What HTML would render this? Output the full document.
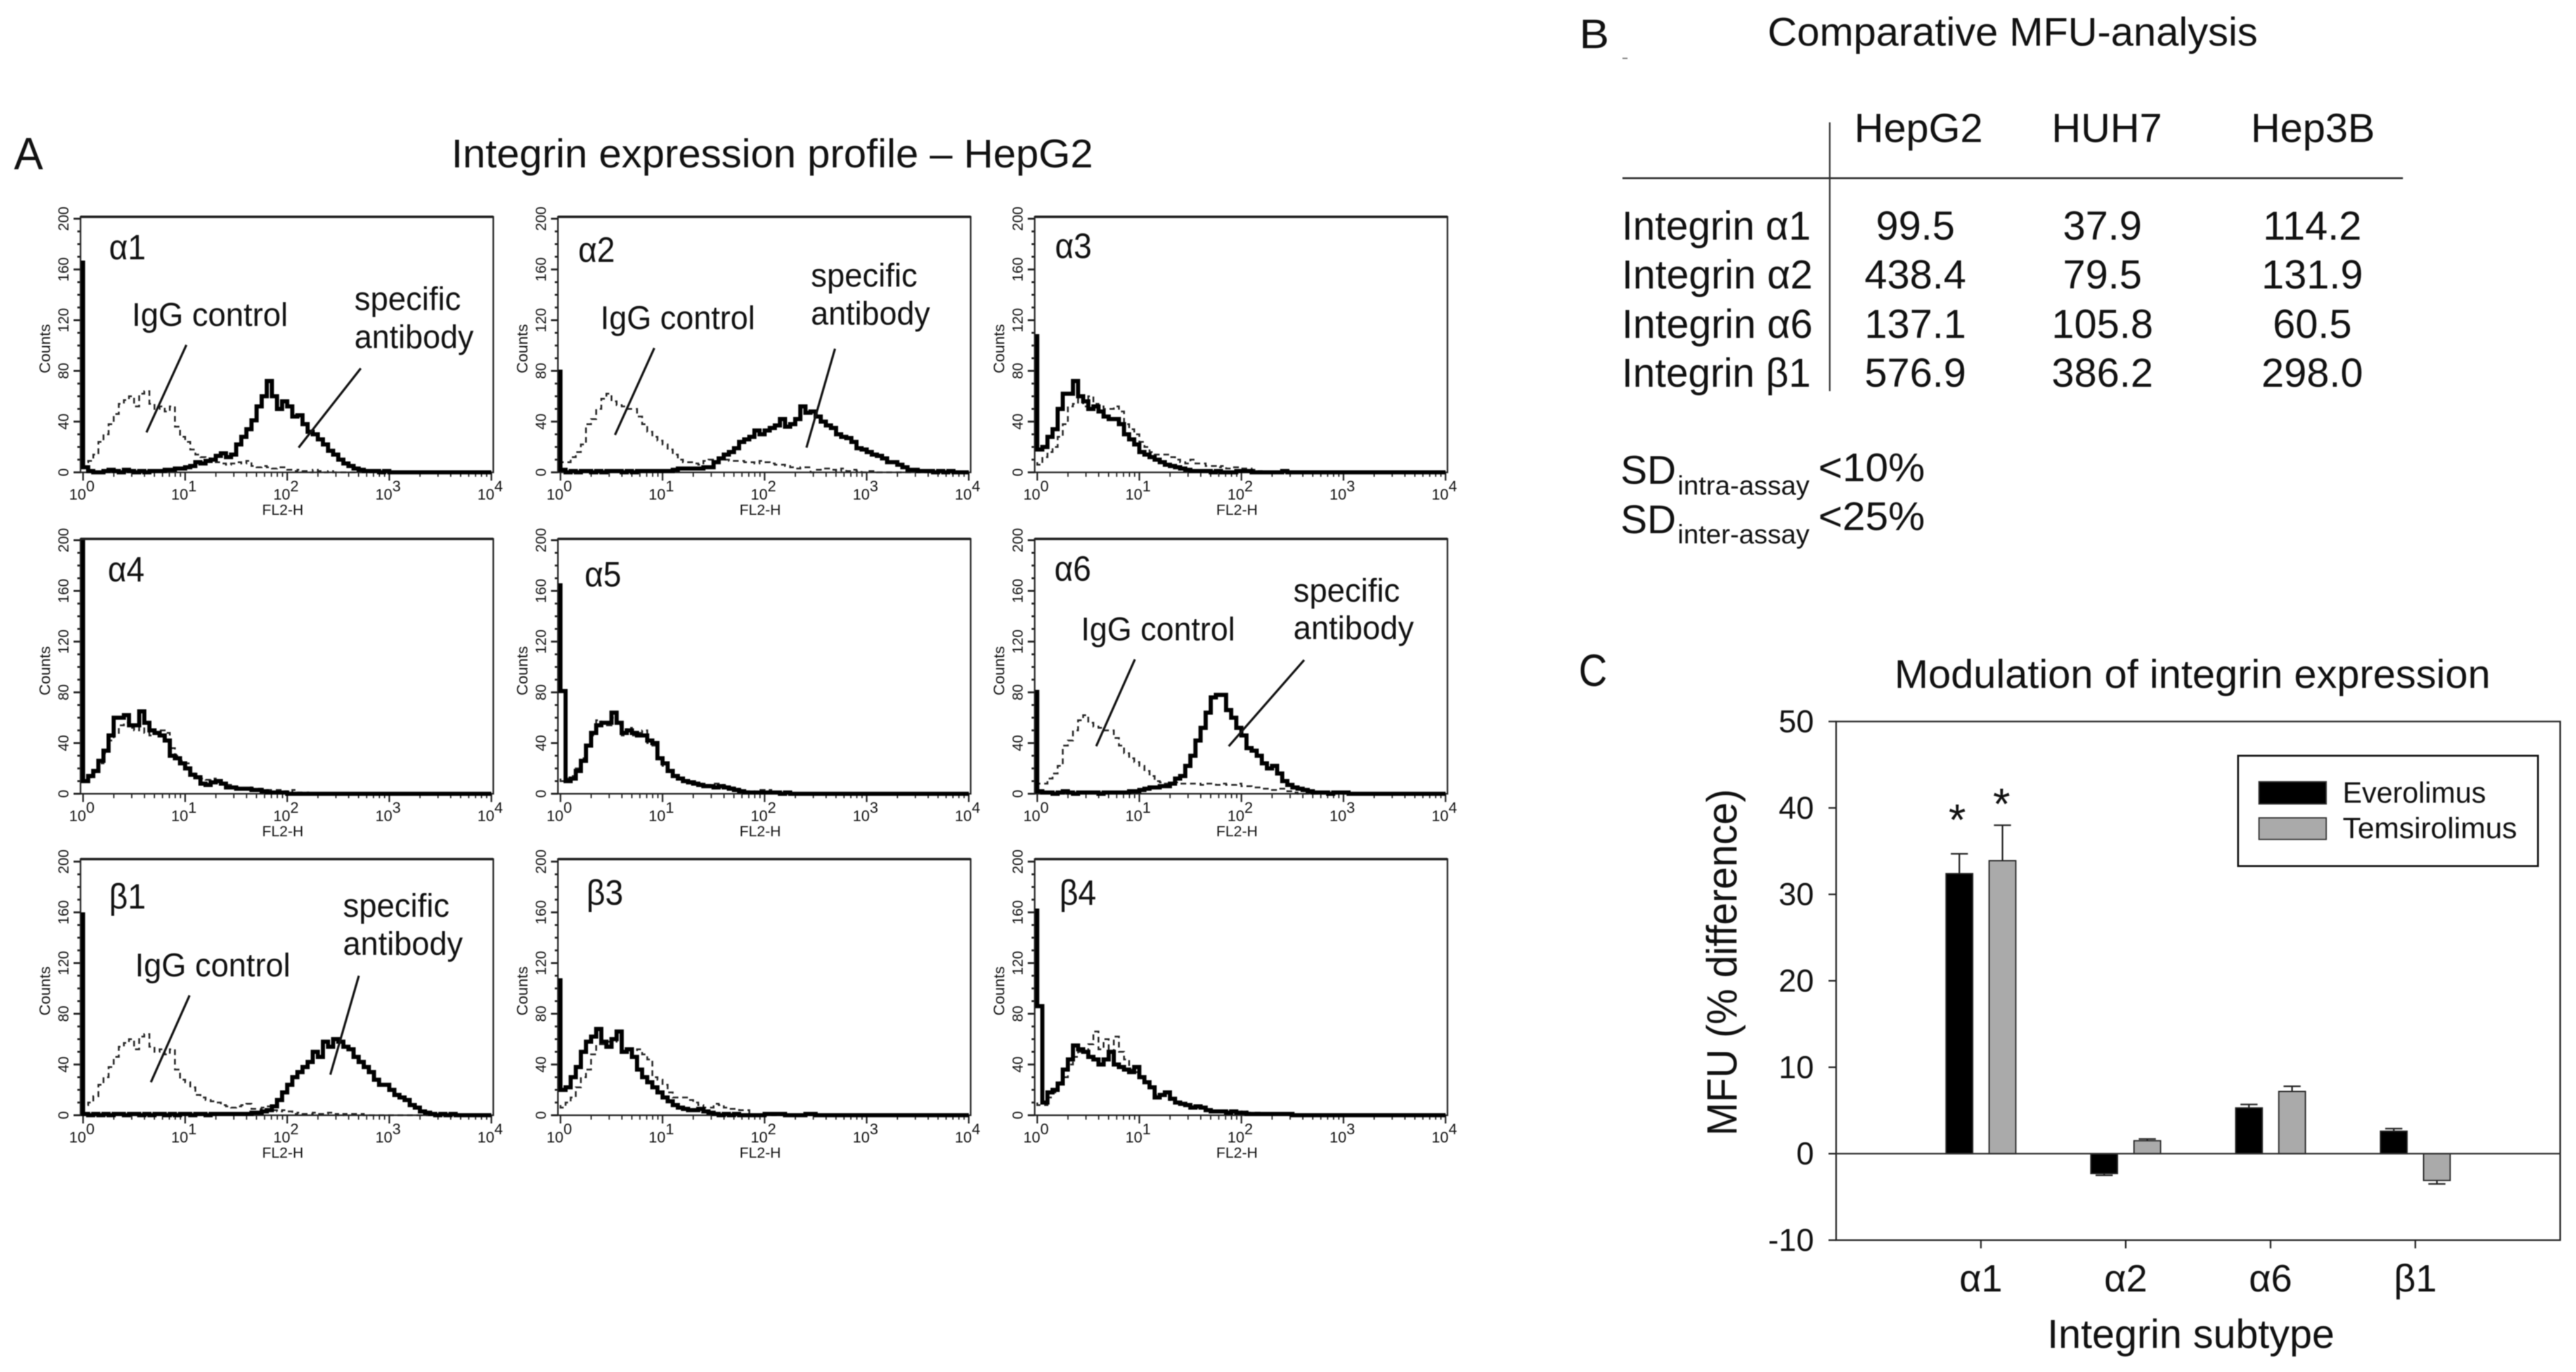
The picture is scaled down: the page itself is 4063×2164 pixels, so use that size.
<!DOCTYPE html>
<html lang="en">
<head>
<meta charset="utf-8">
<title>Integrin expression figure</title>
<style>
html,body{margin:0;padding:0;background:#fff;width:4063px;height:2164px;overflow:hidden}
svg{display:block;filter:blur(0.9px)}
text{font-family:"Liberation Sans","DejaVu Sans",sans-serif;fill:#111}
</style>
</head>
<body>
<svg id="figure" xmlns="http://www.w3.org/2000/svg" width="4063" height="2164" viewBox="0 0 4063 2164">
  <rect width="4063" height="2164" fill="#fff"/>

  <!-- Panel A headings -->
  <text x="22" y="267" font-size="71" textLength="46" lengthAdjust="spacingAndGlyphs">A</text>
  <text x="712" y="264" font-size="63" textLength="1012" lengthAdjust="spacingAndGlyphs">Integrin expression profile – HepG2</text>

  <g id="histograms"></g>

  <!-- Histogram annotations -->
  <g stroke="none">
    <text x="208" y="514" font-size="52" textLength="246" lengthAdjust="spacingAndGlyphs">IgG control</text>
    <text x="559" y="489" font-size="52" textLength="168" lengthAdjust="spacingAndGlyphs">specific</text>
    <text x="559" y="549" font-size="52" textLength="188" lengthAdjust="spacingAndGlyphs">antibody</text>
    <line x1="294" y1="544" x2="231" y2="682" stroke="#111" stroke-width="3.5"/>
    <line x1="569" y1="581" x2="471" y2="706" stroke="#111" stroke-width="3.5"/>

    <text x="947" y="519" font-size="52" textLength="244" lengthAdjust="spacingAndGlyphs">IgG control</text>
    <text x="1279" y="452" font-size="52" textLength="168" lengthAdjust="spacingAndGlyphs">specific</text>
    <text x="1279" y="512" font-size="52" textLength="188" lengthAdjust="spacingAndGlyphs">antibody</text>
    <line x1="1032" y1="549" x2="970" y2="686" stroke="#111" stroke-width="3.5"/>
    <line x1="1317" y1="550" x2="1272" y2="706" stroke="#111" stroke-width="3.5"/>

    <text x="1705" y="1010" font-size="52" textLength="243" lengthAdjust="spacingAndGlyphs">IgG control</text>
    <text x="2040" y="949" font-size="52" textLength="168" lengthAdjust="spacingAndGlyphs">specific</text>
    <text x="2040" y="1008" font-size="52" textLength="190" lengthAdjust="spacingAndGlyphs">antibody</text>
    <line x1="1790" y1="1040" x2="1729" y2="1177" stroke="#111" stroke-width="3.5"/>
    <line x1="2057" y1="1041" x2="1938" y2="1177" stroke="#111" stroke-width="3.5"/>

    <text x="213" y="1540" font-size="52" textLength="245" lengthAdjust="spacingAndGlyphs">IgG control</text>
    <text x="541" y="1446" font-size="52" textLength="168" lengthAdjust="spacingAndGlyphs">specific</text>
    <text x="541" y="1506" font-size="52" textLength="189" lengthAdjust="spacingAndGlyphs">antibody</text>
    <line x1="299" y1="1570" x2="238" y2="1707" stroke="#111" stroke-width="3.5"/>
    <line x1="566" y1="1539" x2="521" y2="1695" stroke="#111" stroke-width="3.5"/>
  </g>

  <!-- Panel B table -->
  <g>
    <text x="2491" y="76" font-size="65" textLength="47" lengthAdjust="spacingAndGlyphs">B</text>
    <rect x="2559" y="91" width="8" height="2" fill="#777"/>
    <text x="2788" y="72" font-size="63" textLength="773" lengthAdjust="spacingAndGlyphs">Comparative MFU-analysis</text>
    <line x1="2559" y1="281" x2="3790" y2="281" stroke="#333" stroke-width="3"/>
    <line x1="2886" y1="193" x2="2886" y2="617" stroke="#333" stroke-width="2.5"/>
    <text x="3026" y="224" font-size="64" text-anchor="middle">HepG2</text>
    <text x="3323" y="224" font-size="64" text-anchor="middle">HUH7</text>
    <text x="3648" y="224" font-size="64" text-anchor="middle">Hep3B</text>

    <text x="2558" y="378" font-size="64" textLength="298" lengthAdjust="spacingAndGlyphs">Integrin α1</text>
    <text x="2558" y="455" font-size="64" textLength="301" lengthAdjust="spacingAndGlyphs">Integrin α2</text>
    <text x="2558" y="533" font-size="64" textLength="301" lengthAdjust="spacingAndGlyphs">Integrin α6</text>
    <text x="2558" y="610" font-size="64" textLength="298" lengthAdjust="spacingAndGlyphs">Integrin β1</text>

    <text x="3021" y="378" font-size="64" text-anchor="middle">99.5</text>
    <text x="3316" y="378" font-size="64" text-anchor="middle">37.9</text>
    <text x="3647" y="378" font-size="64" text-anchor="middle">114.2</text>
    <text x="3021" y="455" font-size="64" text-anchor="middle">438.4</text>
    <text x="3316" y="455" font-size="64" text-anchor="middle">79.5</text>
    <text x="3647" y="455" font-size="64" text-anchor="middle">131.9</text>
    <text x="3021" y="533" font-size="64" text-anchor="middle">137.1</text>
    <text x="3316" y="533" font-size="64" text-anchor="middle">105.8</text>
    <text x="3647" y="533" font-size="64" text-anchor="middle">60.5</text>
    <text x="3021" y="610" font-size="64" text-anchor="middle">576.9</text>
    <text x="3316" y="610" font-size="64" text-anchor="middle">386.2</text>
    <text x="3647" y="610" font-size="64" text-anchor="middle">298.0</text>

    <text x="2556" y="763" font-size="63">SD</text>
    <text x="2646" y="780" font-size="42" textLength="208" lengthAdjust="spacingAndGlyphs">intra-assay</text>
    <text x="2868" y="759" font-size="63" textLength="168" lengthAdjust="spacingAndGlyphs">&lt;10%</text>
    <text x="2556" y="841" font-size="63">SD</text>
    <text x="2646" y="857" font-size="42" textLength="208" lengthAdjust="spacingAndGlyphs">inter-assay</text>
    <text x="2868" y="836" font-size="63" textLength="168" lengthAdjust="spacingAndGlyphs">&lt;25%</text>
  </g>

  <!-- Panel C headings -->
  <text x="2490" y="1082" font-size="71" textLength="45" lengthAdjust="spacingAndGlyphs">C</text>
  <text x="2988" y="1085" font-size="63" textLength="940" lengthAdjust="spacingAndGlyphs">Modulation of integrin expression</text>
  <g id="barchart"></g>
  <text transform="translate(2739,1518) rotate(-90)" font-size="67" text-anchor="middle" textLength="547" lengthAdjust="spacingAndGlyphs">MFU (% difference)</text>
  <text x="3229" y="2126" font-size="64" textLength="453" lengthAdjust="spacingAndGlyphs">Integrin subtype</text>
  <text x="3087" y="1317" font-size="70" text-anchor="middle">*</text>
  <text x="3157" y="1292" font-size="70" text-anchor="middle">*</text>

  <g>
    <rect x="3530" y="1192" width="473" height="174" fill="#fff" stroke="#111" stroke-width="3"/>
    <rect x="3563" y="1233" width="106" height="35" fill="#000" stroke="#333" stroke-width="2"/>
    <rect x="3563" y="1290" width="106" height="34" fill="#aaa" stroke="#333" stroke-width="2"/>
    <text x="3695" y="1266" font-size="46" textLength="226" lengthAdjust="spacingAndGlyphs">Everolimus</text>
    <text x="3695" y="1322" font-size="46" textLength="275" lengthAdjust="spacingAndGlyphs">Temsirolimus</text>
  </g>
</svg>

<script>
// ---- Histogram data: counts per bin, 20 bins per decade of FL2-H; bins past the end of an array are 0 ----
const panelLabels = ['α1','α2','α3','α4','α5','α6','β1','β3','β4'];
const countTickLabels = [0,40,80,120,160,200];
const countMinorTicks = [10,20,30,50,60,70,90,100,110,130,140,150,170,180,190];
const decadeExponents = [0,1,2,3,4];
const decadeMinorMultipliers = [2,3,4,5,6,7,8,9];

const a1Specific = [167,4,1,0,0,1,2,1,0,2,1,0,1,0,1,1,1,2,2,3,3,4,5,8,7,9,10,13,15,12,14,22,28,34,41,52,60,72,60,50,56,52,44,45,38,32,30,26,22,17,14,10,7,5,3,2,1,1,1,0,1];
const a1Control = [12,8,9,14,24,30,38,46,54,57,60,52,62,64,54,50,52,48,52,36,28,24,18,14,12,11,9,8,7,6,7,8,7,9,5,4,5,4,3,4,4,2,1,2,1,0,2,1,0,1];
const a2Specific = [81,2,0,1,0,1,1,0,1,0,1,1,1,0,1,0,1,1,1,1,1,1,1,2,3,3,3,3,3,4,4,8,11,14,16,19,24,26,28,33,30,33,35,37,42,36,38,42,52,47,48,44,40,37,35,30,28,27,24,19,18,16,14,13,11,8,8,6,4,2,2,1,1,1,0,1,0,1];
const a2Control = [10,8,8,12,16,22,38,42,50,58,62,56,53,52,50,50,44,38,32,28,25,22,18,14,10,8,8,7,6,9,10,10,11,10,9,9,9,8,8,7,9,8,7,6,6,5,4,3,4,4,0,2,3,3,2,1,3,1,2,1,0,1,1];
const a3Specific = [109,18,20,28,34,50,62,62,72,60,56,50,52,48,44,42,42,38,30,26,22,16,14,12,10,8,6,5,4,3,2,1,1,1,1,0,1,0,0,0,1,1,1,0,0,0,0,0,0,1];
const a3Control = [8,6,12,16,20,28,38,52,54,58,52,60,54,52,50,50,52,48,38,34,30,24,20,16,14,14,14,12,10,8,7,10,7,7,5,5,4,5,3,4,4,3,3,2,1];
const a4Specific = [200,10,14,18,26,34,46,60,60,62,54,54,65,56,50,48,46,42,30,28,24,20,15,13,8,7,9,10,8,5,5,4,4,4,3,3,2,1,1,1,1];
const a4Control = [12,10,13,17,24,32,42,48,54,56,52,50,60,48,46,50,50,48,36,30,26,24,16,14,12,11,12,10,8,7,5,5,4,5,4,4,3,3,3,3,2,1,3,1,0,1];
const a5Specific = [166,81,10,12,18,26,38,48,54,56,56,64,56,48,50,48,46,46,42,40,28,24,18,14,12,10,9,8,7,6,6,5,6,5,4,3,2,1,1,1,1,1,1,1,0,1];
const a5Control = [12,10,12,14,20,28,38,46,58,54,54,60,54,46,52,46,48,50,40,38,28,22,18,14,12,10,10,10,8,7,7,8,7,6,5,4,3,2,2,1,3,2,3,1];
const a6Specific = [82,2,1,1,0,1,2,1,0,1,1,1,1,0,1,1,1,1,1,2,2,3,4,5,5,6,6,8,12,14,22,30,42,52,64,76,78,78,66,60,52,46,36,34,30,24,20,22,16,10,7,5,4,3,2,1,1,1,0,1,1,1];
const a6Control = [10,8,8,12,16,22,38,42,50,58,62,56,53,52,50,50,44,38,32,28,25,22,18,14,10,9,8,8,9,8,8,8,8,7,8,8,7,8,7,7,8,6,6,5,5,4,4,3,4,4,2,1];
const b1Specific = [160,1,0,1,0,1,0,1,1,0,1,1,0,1,0,1,1,0,1,0,1,1,0,1,1,0,1,1,1,1,1,1,1,1,2,2,3,4,7,12,18,24,30,34,38,42,50,46,58,54,60,58,54,52,46,42,38,34,28,24,24,20,16,14,12,8,6,3,2,1,0,1,0,1];
const b1Control = [12,8,10,15,24,30,38,46,54,57,60,52,62,64,54,50,52,48,52,36,28,26,22,16,14,12,11,10,8,7,6,7,8,9,5,5,6,7,4,3,4,3,1,2,1,1,2,1,1,2,1,0,1,1,1,1];
const b3Specific = [108,20,22,30,38,50,58,62,68,58,54,60,66,50,52,46,36,30,26,22,18,14,11,8,6,5,4,4,5,3,2,1,0,1,0,1,0,0,0,0,0,1,1,1,1,0,0,0,0,1,1];
const b3Control = [8,6,10,14,22,30,36,48,56,56,58,58,62,50,52,50,52,48,44,30,28,24,18,14,14,14,12,10,8,6,6,9,8,6,5,5,4,4];
const b4Specific = [163,86,10,18,20,25,36,44,55,52,50,46,44,40,44,50,40,38,36,34,38,30,26,22,14,16,18,13,10,9,8,6,7,6,4,3,3,3,2,3,2,2,1,1,1,1,1,1,1,1,1];
const b4Control = [10,8,8,14,18,26,30,40,46,50,50,56,66,52,60,50,62,50,44,36,34,30,26,22,16,16,16,12,10,9,8,7,6,5,4,3,3,3,3,2,2,3,2,2,2,1,1,1,1,1,1];

const panelSpecific = [a1Specific,a2Specific,a3Specific,a4Specific,a5Specific,a6Specific,b1Specific,b3Specific,b4Specific];
const panelControl = [a1Control,a2Control,a3Control,a4Control,a5Control,a6Control,b1Control,b3Control,b4Control];
const panelIds = ['alpha1','alpha2','alpha3','alpha4','alpha5','alpha6','beta1','beta3','beta4'];

// ---- Bar chart data ----
const barCategories = ['α1','α2','α6','β1'];
const everolimusValues = [32.4,-2.3,5.3,2.6];
const temsirolimusValues = [33.9,1.5,7.2,-3.1];
const everolimusErrors = [2.3,0.2,0.4,0.3];
const temsirolimusErrors = [4.1,0.2,0.6,0.4];
const barTickLabels = [50,40,30,20,10,0,-10];

// ---- Helpers ----
const SVG_NS = 'http://www.w3.org/2000/svg';
function makeNode(tag, parent, name) {
  const node = document.createElementNS(SVG_NS, tag);
  
  
  parent.appendChild(node);
  return node;
}
function drawLine(parent, name, x1, y1, x2, y2, color, width) {
  const node = makeNode('line', parent, name);
  node.setAttribute('x1', x1);
  node.setAttribute('y1', y1);
  node.setAttribute('x2', x2);
  node.setAttribute('y2', y2);
  node.setAttribute('stroke', color);
  node.setAttribute('stroke-width', width);
  return node;
}

// ---- Histogram layout ----
const PANEL_WIDTH = 651;
const DECADE_PX = 161;
const BINS_PER_DECADE = 20;
const TOTAL_BINS = 80;
const COUNT_PX = 2;
const columnLefts = [127,880,1632];
const rowTops = [342,850,1355];
const rowBottoms = [745,1252,1759];
const labelOffsets = [[45,67],[32,71],[32,65],[43,67],[42,75],[31,66],[45,78],[45,72],[39,72]];

function stepPath(values, xOf, yOf) {
  let d = 'M' + xOf(0) + ' ' + yOf(values[0]);
  for (let i = 1; i <= TOTAL_BINS; i++) {
    const v = i < values.length ? values[i] : 0;
    d += 'V' + yOf(v) + 'H' + xOf(i);
  }
  return d;
}

function drawPanel(index) {
  const col = index % 3;
  const row = Math.floor(index / 3);
  const left = columnLefts[col];
  const top = rowTops[row];
  const bottom = rowBottoms[row];
  const id = panelIds[index];
  const xOfLog = function (logValue) { return left + 4 + logValue * DECADE_PX; };
  const xOfBin = function (bin) { return xOfLog(bin / BINS_PER_DECADE); };
  const yOfCount = function (count) { return bottom - count * COUNT_PX; };

  const g = makeNode('g', document.getElementById('histograms'), 'histogram-' + id);

  const frame = makeNode('rect', g, id + '-plot-frame');
  frame.setAttribute('x', left);
  frame.setAttribute('y', top);
  frame.setAttribute('width', PANEL_WIDTH);
  frame.setAttribute('height', bottom - top);
  frame.setAttribute('fill', '#fff');
  frame.setAttribute('stroke', '#222');
  frame.setAttribute('stroke-width', 2.5);
  drawLine(g, id + '-plot-top-edge', left, top, left + PANEL_WIDTH, top, '#222', 4);

  countMinorTicks.forEach(function (c) {
    drawLine(g, id + '-y-minor-tick', left - 5, yOfCount(c), left, yOfCount(c), '#222', 3);
  });
  countTickLabels.forEach(function (c) {
    drawLine(g, id + '-y-major-tick', left - 11, yOfCount(c), left, yOfCount(c), '#222', 3);
    const label = makeNode('text', g, id + '-y-tick-label');
    label.setAttribute('transform', 'translate(' + (left - 19) + ',' + yOfCount(c) + ') rotate(-90)');
    label.setAttribute('font-size', 23);
    label.setAttribute('text-anchor', 'middle');
    label.setAttribute('fill', '#222');
    label.textContent = String(c);
  });

  decadeExponents.forEach(function (e) {
    const x = xOfLog(e);
    drawLine(g, id + '-x-major-tick', x, bottom, x, bottom + 13, '#222', 2.5);
    if (e < 4) {
      decadeMinorMultipliers.forEach(function (m) {
        const mx = xOfLog(e + Math.log10(m));
        drawLine(g, id + '-x-minor-tick', mx, bottom, mx, bottom + 7, '#222', 2);
      });
    }
    const label = makeNode('text', g, id + '-x-tick-label');
    label.setAttribute('x', x - 22);
    label.setAttribute('y', bottom + 43);
    label.setAttribute('font-size', 24);
    label.setAttribute('fill', '#222');
    label.textContent = '10';
    const sup = makeNode('tspan', label, id + '-x-tick-exponent');
    sup.setAttribute('dy', -13);
    sup.textContent = String(e);
  });

  const yTitle = makeNode('text', g, id + '-y-axis-title');
  yTitle.setAttribute('transform', 'translate(' + (left - 48) + ',' + (top + 208) + ') rotate(-90)');
  yTitle.setAttribute('font-size', 24.5);
  yTitle.setAttribute('text-anchor', 'middle');
  yTitle.setAttribute('fill', '#222');
  yTitle.textContent = 'Counts';

  const xTitle = makeNode('text', g, id + '-x-axis-title');
  xTitle.setAttribute('x', left + 319);
  xTitle.setAttribute('y', bottom + 67);
  xTitle.setAttribute('font-size', 23.5);
  xTitle.setAttribute('text-anchor', 'middle');
  xTitle.setAttribute('fill', '#222');
  xTitle.textContent = 'FL2-H';

  const control = makeNode('path', g, id + '-igg-control-histogram');
  control.setAttribute('d', stepPath(panelControl[index], xOfBin, yOfCount));
  control.setAttribute('fill', 'none');
  control.setAttribute('stroke', '#222');
  control.setAttribute('stroke-width', 2.8);
  control.setAttribute('stroke-dasharray', '9 6');

  const specific = makeNode('path', g, id + '-specific-antibody-histogram');
  specific.setAttribute('d', stepPath(panelSpecific[index], xOfBin, yOfCount));
  specific.setAttribute('fill', 'none');
  specific.setAttribute('stroke', '#000');
  specific.setAttribute('stroke-width', 6.5);

  const name = makeNode('text', g, id + '-panel-label');
  name.setAttribute('x', left + labelOffsets[index][0]);
  name.setAttribute('y', top + labelOffsets[index][1]);
  name.setAttribute('font-size', 56);
  name.setAttribute('textLength', 58);
  name.setAttribute('lengthAdjust', 'spacingAndGlyphs');
  name.textContent = panelLabels[index];
}
panelLabels.forEach(function (_, i) { drawPanel(i); });

// ---- Bar chart layout ----
(function drawBarChart() {
  const g = document.getElementById('barchart');
  const left = 2896, right = 4038, top = 1138, bottom = 1956;
  const yMax = 50, yMin = -10;
  const yOf = function (v) { return top + (yMax - v) * (bottom - top) / (yMax - yMin); };
  const xOf = function (i) { return left + (i + 1) * (right - left) / (barCategories.length + 1); };
  const BAR_W = 42, BAR_GAP = 13, CAP_W = 27;

  const frame = makeNode('rect', g, 'bar-plot-frame');
  frame.setAttribute('x', left);
  frame.setAttribute('y', top);
  frame.setAttribute('width', right - left);
  frame.setAttribute('height', bottom - top);
  frame.setAttribute('fill', '#fff');
  frame.setAttribute('stroke', '#222');
  frame.setAttribute('stroke-width', 2.5);

  barTickLabels.forEach(function (v) {
    drawLine(g, 'bar-y-tick', left - 12, yOf(v), left, yOf(v), '#222', 2.5);
    const label = makeNode('text', g, 'bar-y-tick-label');
    label.setAttribute('x', 2861);
    label.setAttribute('y', yOf(v) + 17);
    label.setAttribute('font-size', 50);
    label.setAttribute('text-anchor', 'end');
    label.textContent = String(v);
  });

  function drawBar(cx, value, error, fill, series) {
    const edge = value >= 0 ? value + error : value - error;
    drawLine(g, series + '-error-bar', cx, yOf(value), cx, yOf(edge), '#222', 2.5);
    drawLine(g, series + '-error-cap', cx - CAP_W / 2, yOf(edge), cx + CAP_W / 2, yOf(edge), '#222', 2.5);
    const bar = makeNode('rect', g, series + '-bar');
    bar.setAttribute('x', cx - BAR_W / 2);
    bar.setAttribute('y', Math.min(yOf(value), yOf(0)));
    bar.setAttribute('width', BAR_W);
    bar.setAttribute('height', Math.abs(yOf(value) - yOf(0)));
    bar.setAttribute('fill', fill);
    bar.setAttribute('stroke', '#222');
    bar.setAttribute('stroke-width', 2);
  }

  barCategories.forEach(function (cat, i) {
    const cx = xOf(i);
    drawLine(g, 'bar-x-tick', cx, bottom, cx, bottom + 13, '#222', 2.5);
    drawBar(cx - BAR_GAP - BAR_W / 2, everolimusValues[i], everolimusErrors[i], '#000', 'everolimus-' + i);
    drawBar(cx + BAR_GAP + BAR_W / 2, temsirolimusValues[i], temsirolimusErrors[i], '#aaa', 'temsirolimus-' + i);
    const label = makeNode('text', g, 'bar-x-tick-label');
    label.setAttribute('x', cx);
    label.setAttribute('y', 2037);
    label.setAttribute('font-size', 60);
    label.setAttribute('text-anchor', 'middle');
    label.textContent = cat;
  });
  drawLine(g, 'bar-zero-line', left, yOf(0), right, yOf(0), '#333', 2.5);
})();
</script>
</body>
</html>
